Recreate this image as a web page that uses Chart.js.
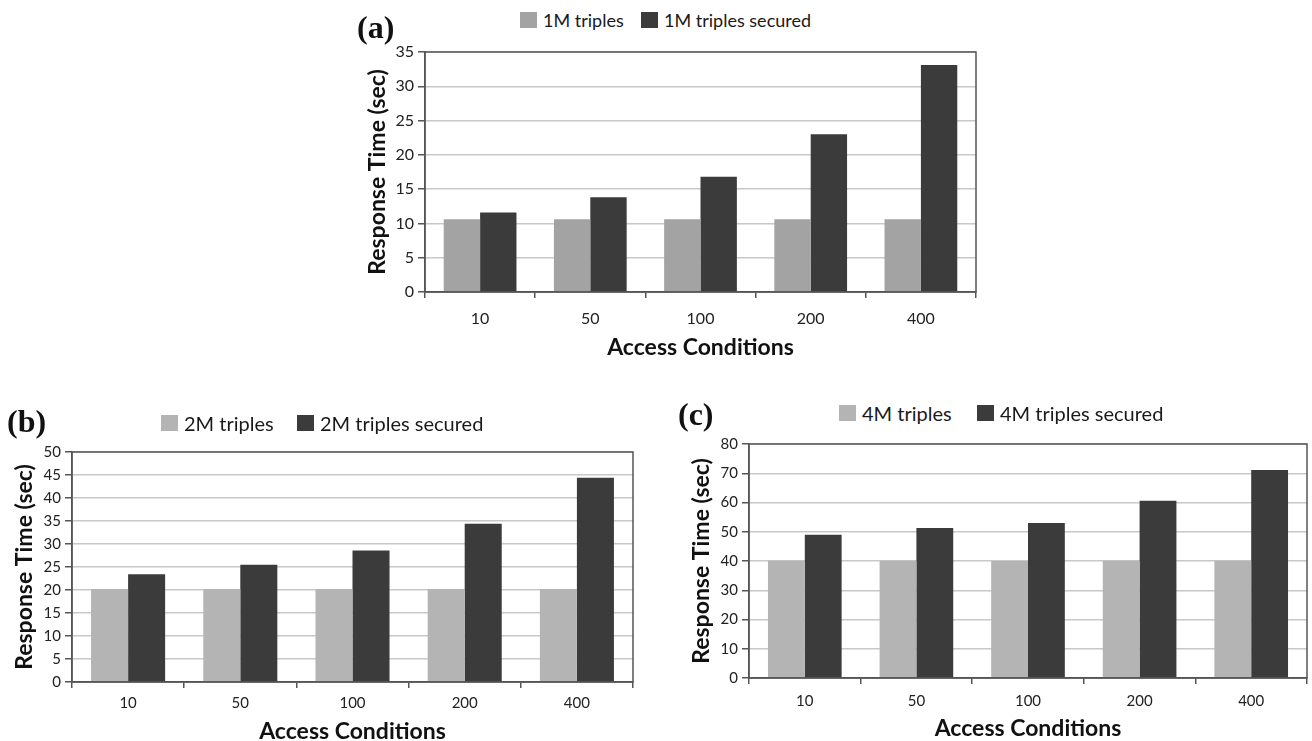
<!DOCTYPE html>
<html><head><meta charset="utf-8">
<script src="https://cdn.jsdelivr.net/npm/chart.js@4.4.1/dist/chart.umd.min.js"></script>
<style>
html,body{margin:0;padding:0;background:#fff;overflow:hidden;width:1312px;height:741px}
canvas{position:absolute}
.panel{position:absolute;font-family:"Liberation Serif",serif;font-weight:bold;color:#111;line-height:1}
.leg{position:absolute;font-family:Lato,sans-serif;color:#1a1a1a;white-space:nowrap;display:flex;align-items:center;line-height:1}
.sw{display:inline-block;width:17px;height:16px;margin-right:6px}
</style></head><body>
<canvas id="ca"></canvas><canvas id="cb"></canvas><canvas id="cc"></canvas>
<script>
// ---- data ----
const categories = ['10', '50', '100', '200', '400'];

const seriesNamesA = ['1M triples', '1M triples secured'];
const plainA   = [10.6, 10.6, 10.6, 10.6, 10.6];
const securedA = [11.6, 13.8, 16.8, 23.0, 33.1];
const yMaxA = 35, yStepA = 5;

const seriesNamesB = ['2M triples', '2M triples secured'];
const plainB   = [20.2, 20.2, 20.2, 20.2, 20.2];
const securedB = [23.4, 25.5, 28.6, 34.4, 44.4];
const yMaxB = 50, yStepB = 5;

const seriesNamesC = ['4M triples', '4M triples secured'];
const plainC   = [40.1, 40.1, 40.0, 40.1, 40.1];
const securedC = [49.0, 51.3, 53.0, 60.6, 71.1];
const yMaxC = 80, yStepC = 10;

const xTitle = 'Access Conditions';
const yTitle = 'Response Time (sec)';
const panelLabels = ['(a)', '(b)', '(c)'];

// ---- layout / style ----
const DARK = '#3b3b3b';
const frame = {
  id: 'frame',
  afterDatasetsDraw(chart) {
    const a = chart.chartArea, c = chart.ctx;
    c.save(); c.strokeStyle = '#555'; c.lineWidth = 1.5;
    c.strokeRect(a.left, a.top, a.right - a.left, a.bottom - a.top);
    c.restore();
  }
};

function build(id, cfg) {
  const cv = document.getElementById(id);
  const pt = 18, pr = cfg.pr;
  const left = cfg.area[0] - cfg.wy;
  const top = cfg.area[1] - pt;
  const w = cfg.area[2] + pr - left;
  const h = pt + (cfg.area[3] - cfg.area[1]) + cfg.hx;
  cv.width = w; cv.height = h;
  cv.style.left = left + 'px'; cv.style.top = top + 'px';
  cv.style.width = w + 'px'; cv.style.height = h + 'px';
  new Chart(cv, {
    type: 'bar',
    data: {
      labels: categories,
      datasets: [
        { label: cfg.names[0], data: cfg.plain, backgroundColor: cfg.light, categoryPercentage: 0.66, barPercentage: 1.0 },
        { label: cfg.names[1], data: cfg.secured, backgroundColor: DARK, categoryPercentage: 0.66, barPercentage: 1.0 }
      ]
    },
    options: {
      responsive: false, animation: false, devicePixelRatio: 1,
      layout: { padding: { left: 0, top: pt, right: pr, bottom: 0 } },
      plugins: { legend: { display: false }, tooltip: { enabled: false } },
      scales: {
        x: {
          offset: true,
          grid: { offset: true, drawOnChartArea: false, drawTicks: true, tickLength: 6, tickColor: '#555', color: '#555', lineWidth: 1.5 },
          border: { display: true, color: '#555', width: 1.5 },
          ticks: { font: { family: 'Lato', size: cfg.tickSize }, color: '#222', padding: cfg.xpad },
          title: { display: true, text: xTitle, font: { family: 'Lato', size: cfg.xtSize, weight: 'bold' }, color: '#111', padding: 0 },
          afterFit(s) { s.height = cfg.hx; }
        },
        y: {
          min: 0, max: cfg.ymax,
          ticks: { stepSize: cfg.ystep, font: { family: 'Lato', size: cfg.tickSize }, color: '#222', padding: 4 },
          grid: { color: '#c8c8c8', lineWidth: 1.5, tickLength: 7, tickColor: '#555' },
          border: { display: true, color: '#555', width: 1.5 },
          title: { display: true, text: yTitle, font: { family: 'Lato', size: cfg.ytSize, weight: 'bold' }, color: '#111', padding: 0 },
          afterFit(s) { s.width = cfg.wy; }
        }
      }
    },
    plugins: [frame]
  });
  // legend (html, from dataset names)
  const cols = [cfg.light, DARK];
  cfg.names.forEach((n, i) => {
    const d = document.createElement('div');
    d.className = 'leg';
    d.style.left = cfg.legX[i] + 'px';
    d.style.top = (cfg.legY - 10) + 'px';
    d.style.height = '20px';
    d.style.fontSize = cfg.legSize + 'px';
    d.innerHTML = '<span class="sw" style="background:' + cols[i] + '"></span>';
    d.appendChild(document.createTextNode(n));
    document.body.appendChild(d);
  });
  const p = document.createElement('div');
  p.className = 'panel';
  p.style.left = cfg.panel[0] + 'px';
  p.style.top = (cfg.panel[1] - 16) + 'px';
  p.style.fontSize = '32px';
  p.textContent = cfg.panelText;
  document.body.appendChild(p);
}

build('ca', {
  area: [425, 52, 976, 292], wy: 61, hx: 69, pr: 20,
  names: seriesNamesA, plain: plainA, secured: securedA, light: '#a3a3a3',
  ymax: yMaxA, ystep: yStepA, tickSize: 16, xtSize: 23, ytSize: 23, xpad: 11,
  legX: [520, 641], legY: 20, legSize: 18, panel: [357, 27], panelText: panelLabels[0]
});
build('cb', {
  area: [72, 452, 633, 682], wy: 61, hx: 63, pr: 20,
  names: seriesNamesB, plain: plainB, secured: securedB, light: '#b4b4b4',
  ymax: yMaxB, ystep: yStepB, tickSize: 15, xtSize: 23, ytSize: 23, xpad: 6,
  legX: [161, 297], legY: 423, legSize: 20, panel: [7, 421], panelText: panelLabels[1]
});
build('cc', {
  area: [749, 444, 1307, 678], wy: 61, hx: 64, pr: 5,
  names: seriesNamesC, plain: plainC, secured: securedC, light: '#b4b4b4',
  ymax: yMaxC, ystep: yStepC, tickSize: 15, xtSize: 23, ytSize: 23, xpad: 8,
  legX: [839, 977], legY: 413, legSize: 20, panel: [678, 414], panelText: panelLabels[2]
});
</script>
</body></html>
